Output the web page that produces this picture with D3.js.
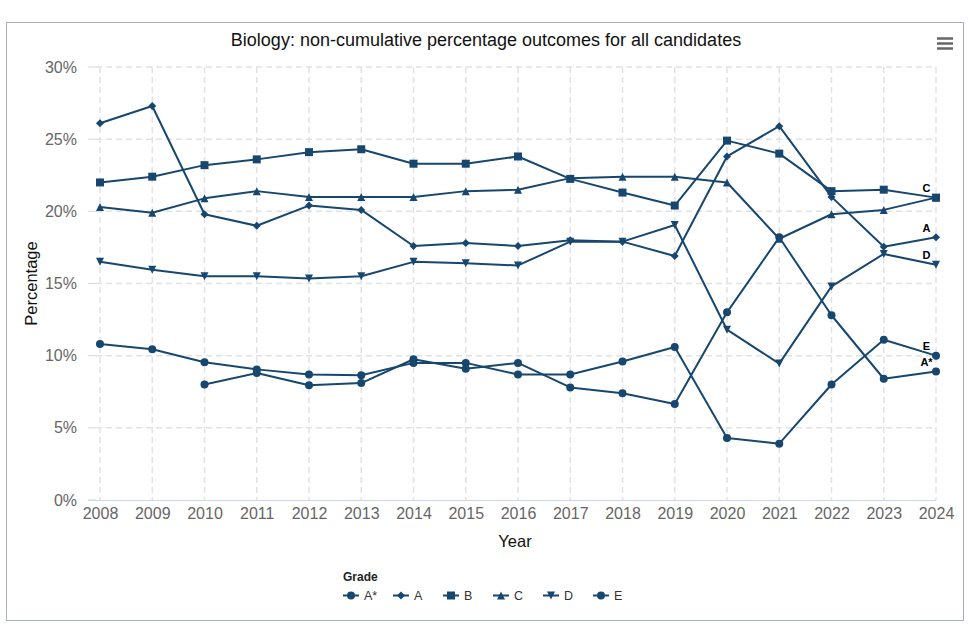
<!DOCTYPE html>
<html>
<head>
<meta charset="utf-8">
<script src="https://cdn.jsdelivr.net/npm/d3@7"></script>
<style>
  html, body { margin: 0; padding: 0; background: #fff; }
  svg { display: block; font-family: "Liberation Sans", Arial, sans-serif; }
</style>
</head>
<body>
<svg id="chart" width="968" height="625"></svg>
<script>
// ---- Data ----
const years = [2008, 2009, 2010, 2011, 2012, 2013, 2014, 2015, 2016, 2017, 2018, 2019, 2020, 2021, 2022, 2023, 2024];
const gradeNames = ["A*", "A", "B", "C", "D", "E"];
const gradeSymbols = ["circle", "diamond", "square", "triangle", "triangle-down", "circle"];
const endLabelNames = ["A*", "A", "", "C", "D", "E"];
const astarValues = [null, null, 8.0, 8.8, 7.95, 8.1, 9.75, 9.1, 9.5, 7.8, 7.4, 6.65, 13.0, 18.2, 12.8, 8.4, 8.9];
const aValues = [26.1, 27.3, 19.8, 19.0, 20.4, 20.1, 17.6, 17.8, 17.6, 18.0, 17.9, 16.9, 23.8, 25.9, 21.0, 17.55, 18.2];
const bValues = [22.0, 22.4, 23.2, 23.6, 24.1, 24.3, 23.3, 23.3, 23.8, 22.25, 21.3, 20.4, 24.9, 24.0, 21.4, 21.5, 20.95];
const cValues = [20.3, 19.9, 20.9, 21.4, 21.0, 21.0, 21.0, 21.4, 21.5, 22.3, 22.4, 22.4, 22.0, 18.1, 19.8, 20.1, 20.95];
const dValues = [16.5, 15.95, 15.5, 15.5, 15.35, 15.5, 16.5, 16.4, 16.25, 17.9, 17.9, 19.05, 11.8, 9.45, 14.8, 17.05, 16.3];
const eValues = [10.8, 10.45, 9.55, 9.05, 8.7, 8.65, 9.5, 9.5, 8.7, 8.7, 9.6, 10.6, 4.3, 3.9, 8.0, 11.1, 10.0];
const yTicks = [0, 5, 10, 15, 20, 25, 30];
const titleText = "Biology: non-cumulative percentage outcomes for all candidates";
const xTitle = "Year";
const yTitle = "Percentage";
const legendTitle = "Grade";

const seriesValues = [astarValues, aValues, bValues, cValues, dValues, eValues];
const series = gradeNames.map((name, i) => ({
  name, symbol: gradeSymbols[i], endLabel: endLabelNames[i],
  points: years.map((y, j) => ({ year: y, value: seriesValues[i][j] }))
}));

// ---- Layout ----
const svg = d3.select("#chart");
const color = "#17476f";
const plot = { left: 88, right: 936, top: 67, bottom: 500 };

const x = d3.scaleLinear().domain([2008, 2024]).range([100, 936]);
const y = d3.scaleLinear().domain([0, 30]).range([plot.bottom, plot.top]);

// frame
svg.append("rect").attr("x", 6.5).attr("y", 22.5).attr("width", 957).attr("height", 598)
  .attr("fill", "#fff").attr("stroke", "#a8afc0").attr("stroke-width", 1);

// title
svg.append("text").attr("x", 486).attr("y", 46).attr("text-anchor", "middle")
  .attr("font-size", 18).attr("fill", "#111").text(titleText);

// menu icon
[38.5, 43.5, 48.5].forEach(yy => {
  svg.append("line").attr("x1", 937).attr("x2", 953).attr("y1", yy).attr("y2", yy)
    .attr("stroke", "#666").attr("stroke-width", 2.5);
});

// grid - horizontal
const gGrid = svg.append("g");
yTicks.forEach(t => {
  if (t > 0) {
    gGrid.append("line").attr("x1", 96).attr("x2", plot.right)
      .attr("y1", y(t)).attr("y2", y(t))
      .attr("stroke", "#e2e2e2").attr("stroke-width", 1.5).attr("stroke-dasharray", "6,4");
  }
  gGrid.append("line").attr("x1", plot.left).attr("x2", 96)
    .attr("y1", y(t)).attr("y2", y(t)).attr("stroke", "#ccd6eb").attr("stroke-width", 1);
});
// grid - vertical
years.forEach(yr => {
  gGrid.append("line").attr("x1", x(yr)).attr("x2", x(yr))
    .attr("y1", plot.top).attr("y2", plot.bottom)
    .attr("stroke", "#e2e2e2").attr("stroke-width", 1.5).attr("stroke-dasharray", "6,4");
});

// x axis line
svg.append("line").attr("x1", plot.left).attr("x2", plot.right)
  .attr("y1", plot.bottom + 0.5).attr("y2", plot.bottom + 0.5)
  .attr("stroke", "#ccd6eb").attr("stroke-width", 1);

// axes via d3
const xAxis = d3.axisBottom(x).tickValues(years).tickFormat(d3.format("d")).tickSize(0).tickPadding(8);
const gx = svg.append("g").attr("transform", `translate(0,${plot.bottom})`).call(xAxis);
gx.select(".domain").remove();
gx.selectAll("text").attr("font-size", 16).attr("fill", "#666").attr("font-family", "Liberation Sans, Arial, sans-serif");

const yAxis = d3.axisLeft(y).tickValues(yTicks).tickFormat(d => d + "%").tickSize(0).tickPadding(0);
const gy = svg.append("g").attr("transform", `translate(77,0)`).call(yAxis);
gy.select(".domain").remove();
gy.selectAll("text").attr("font-size", 16).attr("fill", "#666").attr("font-family", "Liberation Sans, Arial, sans-serif");

// axis titles
svg.append("text").attr("x", 515).attr("y", 547).attr("text-anchor", "middle")
  .attr("font-size", 16.5).attr("fill", "#111").text(xTitle);
svg.append("text").attr("transform", `translate(37,${(plot.top + plot.bottom) / 2}) rotate(-90)`)
  .attr("text-anchor", "middle").attr("font-size", 16.5).attr("fill", "#111").text(yTitle);

// symbol paths
function symbolPath(type, cx, cy, r) {
  switch (type) {
    case "circle":
      return `M${cx - r},${cy}a${r},${r} 0 1,0 ${2 * r},0a${r},${r} 0 1,0 ${-2 * r},0Z`;
    case "square":
      return `M${cx - r},${cy - r}h${2 * r}v${2 * r}h${-2 * r}Z`;
    case "diamond":
      return `M${cx},${cy - r}L${cx + r},${cy}L${cx},${cy + r}L${cx - r},${cy}Z`;
    case "triangle":
      return `M${cx},${cy - r}L${cx + r},${cy + r}L${cx - r},${cy + r}Z`;
    case "triangle-down":
      return `M${cx - r},${cy - r}L${cx + r},${cy - r}L${cx},${cy + r}Z`;
  }
}

// lines
const line = d3.line().defined(d => d.value != null).x(d => x(d.year)).y(d => y(d.value));
const gSeries = svg.append("g");
series.forEach(s => {
  gSeries.append("path").attr("d", line(s.points)).attr("fill", "none")
    .attr("stroke", color).attr("stroke-width", 2).attr("stroke-linejoin", "round");
});
series.forEach(s => {
  s.points.filter(p => p.value != null).forEach(p => {
    gSeries.append("path").attr("d", symbolPath(s.symbol, x(p.year), y(p.value), 4)).attr("fill", color);
  });
});

// end labels (halo + fill)
const gLab = svg.append("g");
series.filter(s => s.endLabel).forEach(s => {
  const last = s.points[s.points.length - 1];
  const lx = x(last.year) - 9.5, ly = y(last.value) - 5.5;
  gLab.append("text").attr("x", lx).attr("y", ly).attr("text-anchor", "middle")
    .attr("font-size", 11).attr("font-weight", "bold")
    .attr("fill", "#fff").attr("stroke", "#fff").attr("stroke-width", 2).attr("stroke-linejoin", "round")
    .text(s.endLabel);
  gLab.append("text").attr("x", lx).attr("y", ly).attr("text-anchor", "middle")
    .attr("font-size", 11).attr("font-weight", "bold").attr("fill", "#000")
    .text(s.endLabel);
});

// legend
const gLeg = svg.append("g");
gLeg.append("text").attr("x", 343).attr("y", 581).attr("font-size", 12).attr("font-weight", "bold")
  .attr("fill", "#222").text(legendTitle);
series.forEach((s, i) => {
  const lx = 343 + i * 50;
  const ly = 595.5;
  gLeg.append("line").attr("x1", lx).attr("x2", lx + 16).attr("y1", ly).attr("y2", ly)
    .attr("stroke", color).attr("stroke-width", 2);
  gLeg.append("path").attr("d", symbolPath(s.symbol, lx + 8, ly, 4)).attr("fill", color);
  gLeg.append("text").attr("x", lx + 21).attr("y", ly + 4.5).attr("font-size", 12.5)
    .attr("fill", "#333").text(s.name);
});
</script>
</body>
</html>
